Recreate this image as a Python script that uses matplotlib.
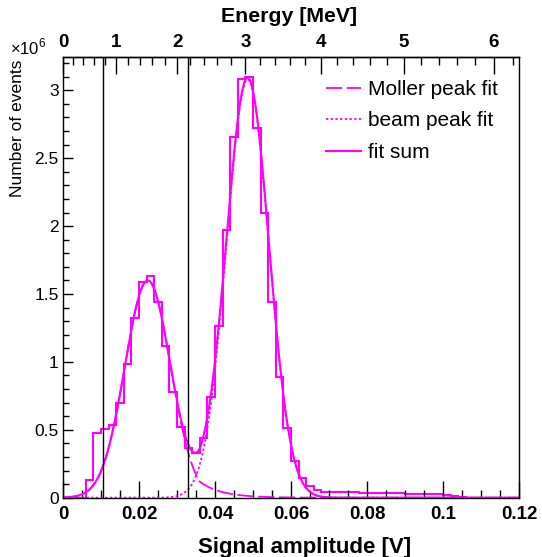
import numpy as np
import matplotlib
matplotlib.use("Agg")
import matplotlib.pyplot as plt
from matplotlib.ticker import MultipleLocator, FixedLocator

plt.rcParams['font.family'] = ['Liberation Sans', 'DejaVu Sans']
plt.rcParams['mathtext.fontset'] = 'custom'
plt.rcParams['mathtext.rm'] = 'Liberation Sans'

MAG = '#ff00ff'

# ---------------- data ----------------
bin_width = 0.002
n_bins = 60
# histogram contents, units of 1e6 events
counts = [0, 0, 0, 0.134, 0.476, 0.505, 0.537, 0.695, 0.983, 1.324,
          1.585, 1.629, 1.439, 1.115, 0.780, 0.520, 0.366, 0.329, 0.439, 0.744,
          1.268, 1.971, 2.654, 3.083, 3.100, 2.720, 2.094, 1.443, 0.891, 0.511,
          0.270, 0.147, 0.086, 0.055, 0.045, 0.043, 0.042, 0.040, 0.039, 0.038,
          0.036, 0.035, 0.034, 0.032, 0.031, 0.030, 0.028, 0.027, 0.025, 0.024,
          0.018, 0.012, 0.006, 0, 0, 0, 0, 0, 0, 0]

# Moller peak fit parameters (gaussian core + exponential right tail)
moller_amp = 1.60
moller_mean = 0.0223
moller_sigma = 0.0060
moller_tail_start = 0.036
moller_tail_slope = 175.0

# beam peak fit parameters (gaussian)
beam_amp = 3.08
beam_mean = 0.0486
beam_sigma = 0.0056

# cut lines (signal amplitude, V)
cut_lines = [0.0106, 0.0330]

# energy calibration amplitude = a*E + b*E^2
cal_a = 0.0131
cal_b = 0.000967
energy_ticks = [0, 1, 2, 3, 4, 5, 6]

legend_labels = ["Moller peak fit", "beam peak fit", "fit sum"]


def moller(x):
    g = moller_amp * np.exp(-0.5 * ((x - moller_mean) / moller_sigma) ** 2)
    g0 = moller_amp * np.exp(-0.5 * ((moller_tail_start - moller_mean) / moller_sigma) ** 2)
    t = g0 * np.exp(-moller_tail_slope * (x - moller_tail_start))
    return np.where(x <= moller_tail_start, g, t)


def beam(x):
    return beam_amp * np.exp(-0.5 * ((x - beam_mean) / beam_sigma) ** 2)


def amp_to_E(x):
    x = np.asarray(x, dtype=float)
    return (-cal_a + np.sqrt(np.clip(cal_a ** 2 + 4 * cal_b * x, 0, None))) / (2 * cal_b)


def E_to_amp(E):
    E = np.asarray(E, dtype=float)
    return cal_a * E + cal_b * E ** 2


# ---------------- figure ----------------
W, H = 542, 557
fig = plt.figure(figsize=(W / 100, H / 100), dpi=100)
L, R, B, T = 63, 519, 497.7, 57
ax = fig.add_axes([L / W, 1 - B / H, (R - L) / W, (B - T) / H])

edges = np.arange(n_bins + 1) * bin_width
ax.stairs(counts, edges, color=MAG, lw=1.5, baseline=0)

xs = np.linspace(0, 0.12, 1200)
l1, = ax.plot(xs, moller(xs), color=MAG, lw=1.3, linestyle=(0, (9, 2.5)))
l2, = ax.plot(xs, beam(xs), color=MAG, lw=1.3, linestyle=(0, (1.3, 1.3)))
l3, = ax.plot(xs, moller(xs) + beam(xs), color=MAG, lw=1.5)

for c in cut_lines:
    ax.axvline(c, color='black', lw=1.0)

ax.set_xlim(0, 0.12)
ax.set_ylim(0, (B - T) / 135.8)

for s in ax.spines.values():
    s.set_linewidth(1.0)

ax.xaxis.set_major_locator(MultipleLocator(0.02))
ax.xaxis.set_minor_locator(MultipleLocator(0.005))
ax.yaxis.set_major_locator(MultipleLocator(0.5))
ax.yaxis.set_minor_locator(MultipleLocator(0.1))
ax.tick_params(axis='both', which='both', direction='in', top=False, right=False)
ax.tick_params(axis='x', which='major', length=12, width=1, labelsize=13.5, pad=6)
ax.tick_params(axis='x', which='minor', length=6, width=1)
ax.tick_params(axis='y', which='major', length=7, width=1, labelsize=12.5, pad=3)
ax.tick_params(axis='y', which='minor', length=4, width=1)
ax.set_xticks([0, 0.02, 0.04, 0.06, 0.08, 0.1, 0.12])
ax.set_xticklabels(['0', '0.02', '0.04', '0.06', '0.08', '0.1', '0.12'], fontweight='bold')
ax.set_yticks([0, 0.5, 1, 1.5, 2, 2.5, 3])
ax.set_yticklabels(['0', '0.5', '1', '1.5', '2', '2.5', '3'])

# top energy axis
sec = ax.secondary_xaxis('top', functions=(amp_to_E, E_to_amp))
sec.xaxis.set_major_locator(FixedLocator(energy_ticks))
sec.xaxis.set_minor_locator(MultipleLocator(0.2))
sec.tick_params(axis='x', which='major', direction='in', length=12, width=1, labelsize=13.5, pad=4)
sec.tick_params(axis='x', which='minor', direction='in', length=6, width=1)
sec.set_xticks(energy_ticks)
sec.set_xticklabels([str(e) for e in energy_ticks], fontweight='bold')
sec.spines['top'].set_linewidth(1.0)

# titles
fig.text(305 / W, 1 - 548 / H, 'Signal amplitude [V]', ha='center', va='center',
         fontsize=16, fontweight='bold')
fig.text(289 / W, 1 - 17 / H, 'Energy [MeV]', ha='center', va='center',
         fontsize=15.3, fontweight='bold')
fig.text(18 / W, 1 - 60 / H, 'Number of events', ha='center', va='top',
         rotation=90, fontsize=12.5)
fig.text(10 / W, 1 - 47 / H, r'$\times$10$^{6}$', ha='left', va='center', fontsize=12)

leg = ax.legend([l1, l2, l3], legend_labels, loc='upper left',
                bbox_to_anchor=(326 / W, 1 - 80 / H), bbox_transform=fig.transFigure,
                frameon=False, fontsize=15, handlelength=1.7, handletextpad=0.3,
                labelspacing=0.6, borderpad=0, borderaxespad=0)

fig.savefig('out.png', dpi=100)
